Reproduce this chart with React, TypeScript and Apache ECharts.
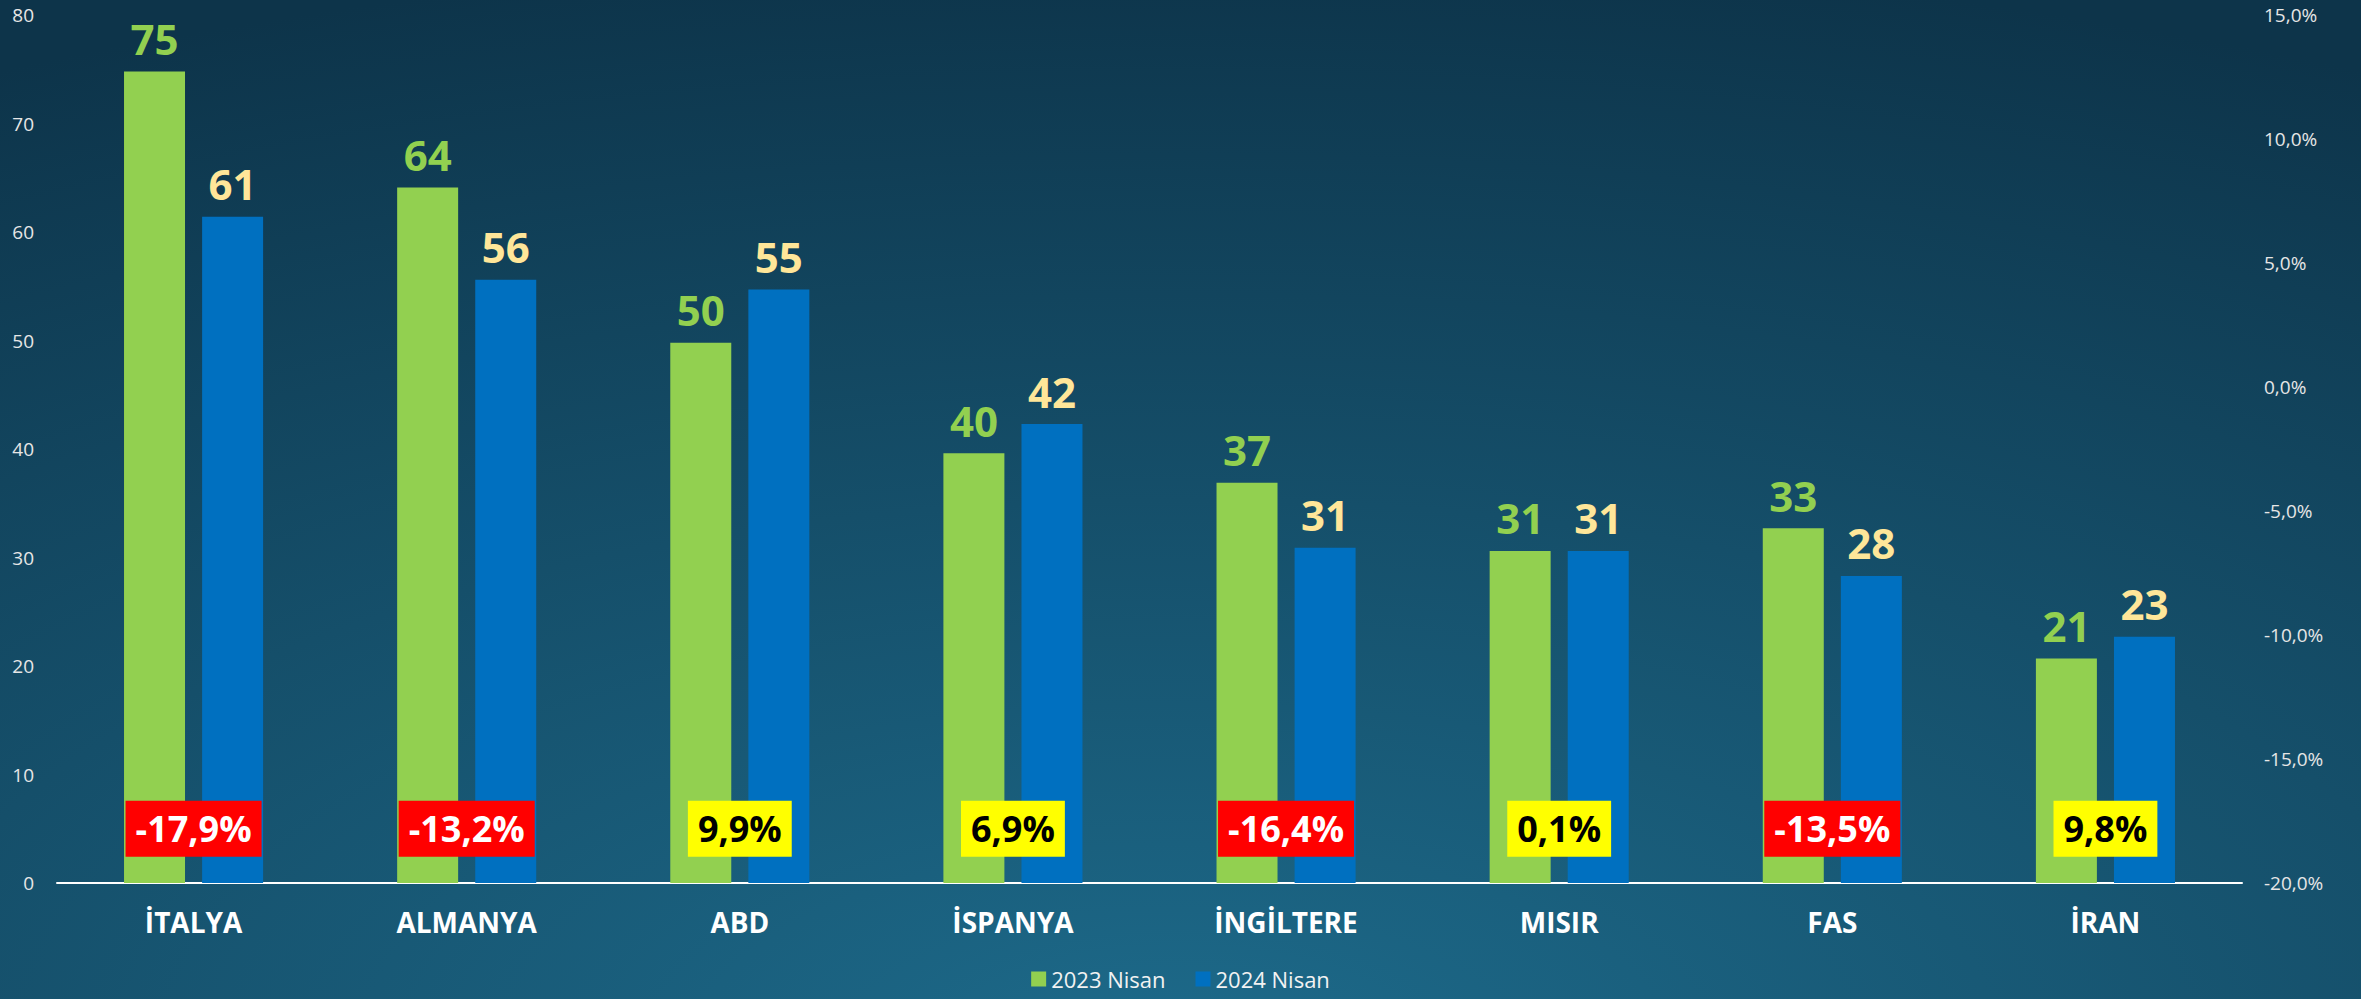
import React, { useEffect, useRef } from "react";
import * as echarts from "echarts";

const categories = ["İTALYA", "ALMANYA", "ABD", "İSPANYA", "İNGİLTERE", "MISIR", "FAS", "İRAN"];
const series2023 = [74.8, 64.1, 49.8, 39.6, 36.9, 30.6, 32.7, 20.7];
const series2024 = [61.4, 55.6, 54.7, 42.3, 30.9, 30.6, 28.3, 22.7];
const pctChange = [-17.9, -13.2, 9.9, 6.9, -16.4, 0.1, -13.5, 9.8];
const seriesNames = ["2023 Nisan", "2024 Nisan"];
const leftTicks = { min: 0, max: 80, interval: 10 };
const rightTicks = { min: -20, max: 15, interval: 5 };
// vertical anchor (left-axis units) where the change badges sit
const BADGE_LEVEL = 5;

const FONT = "'Open Sans', 'Noto Sans', sans-serif";
const fmtPct = (v: number) => v.toFixed(1).replace(".", ",") + "%";

export default function App() {
  const ref = useRef<HTMLDivElement>(null);
  useEffect(() => {
    document.body.style.margin = "0";
    if (!ref.current) return;
    const chart = echarts.init(ref.current, null, { renderer: "svg" });
    chart.setOption({
      animation: false,
      backgroundColor: {
        type: "radial",
        x: 0.5,
        y: 1.05,
        r: 1.1,
        colorStops: [
          { offset: 0, color: "#1D6A8A" },
          { offset: 1, color: "#0D344A" },
        ],
      },
      textStyle: { fontFamily: FONT },
      grid: { left: 57, right: 119, top: 15, bottom: 116, containLabel: false },
      legend: {
        data: seriesNames,
        bottom: 4,
        left: "center",
        icon: "rect",
        itemWidth: 15,
        itemHeight: 15,
        itemGap: 30,
        textStyle: { color: "#F2F2F2", fontSize: 22, fontFamily: FONT },
      },
      xAxis: {
        type: "category",
        data: categories,
        axisLine: { show: true, lineStyle: { color: "#FFFFFF", width: 2 } },
        axisTick: { show: false },
        axisLabel: { color: "#FFFFFF", fontSize: 28, fontWeight: "bold", margin: 25, fontFamily: FONT },
      },
      yAxis: [
        {
          type: "value",
          min: leftTicks.min,
          max: leftTicks.max,
          interval: leftTicks.interval,
          splitLine: { show: false },
          axisLine: { show: false },
          axisTick: { show: false },
          axisLabel: { color: "#E6E6E6", fontSize: 19, margin: 23, fontFamily: FONT },
        },
        {
          type: "value",
          min: rightTicks.min,
          max: rightTicks.max,
          interval: rightTicks.interval,
          position: "right",
          splitLine: { show: false },
          axisLine: { show: false },
          axisTick: { show: false },
          axisLabel: {
            color: "#E6E6E6",
            fontSize: 19,
            margin: 22,
            fontFamily: FONT,
            formatter: (v: number) => fmtPct(v),
          },
        },
      ],
      series: [
        {
          name: seriesNames[0],
          type: "bar",
          data: series2023,
          barWidth: 61,
          barGap: "28%",
          itemStyle: { color: "#92D050" },
          label: {
            show: true,
            position: "top",
            distance: 12,
            color: "#92D050",
            fontSize: 42,
            fontWeight: "bold",
            fontFamily: FONT,
            formatter: (p: any) => String(Math.round(p.value)),
          },
        },
        {
          name: seriesNames[1],
          type: "bar",
          data: series2024,
          barWidth: 61,
          itemStyle: { color: "#0070C0" },
          label: {
            show: true,
            position: "top",
            distance: 12,
            color: "#FFE699",
            fontSize: 42,
            fontWeight: "bold",
            fontFamily: FONT,
            formatter: (p: any) => String(Math.round(p.value)),
          },
        },
        {
          name: "Değişim",
          type: "scatter",
          yAxisIndex: 0,
          symbolSize: 1,
          itemStyle: { color: "rgba(0,0,0,0)", opacity: 1 },
          emphasis: { disabled: true },
          z: 10,
          data: pctChange.map((p, i) => ({
            value: [categories[i], BADGE_LEVEL],
            pct: p,
            label: {
              backgroundColor: p < 0 ? "#FF0000" : "#FFFF00",
              color: p < 0 ? "#FFFFFF" : "#000000",
            },
          })),
          label: {
            show: true,
            position: "inside",
            opacity: 1,
            fontSize: 36,
            fontWeight: "bold",
            fontFamily: FONT,
            lineHeight: 40,
            padding: [8, 10],
            formatter: (p: any) => fmtPct(p.data.pct),
          },
        },
      ],
    });
    return () => chart.dispose();
  }, []);
  return <div ref={ref} style={{ width: 2361, height: 999 }} />;
}
